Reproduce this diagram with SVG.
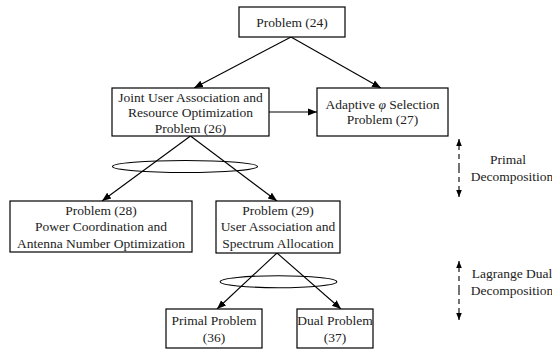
<svg xmlns="http://www.w3.org/2000/svg" width="552" height="349" viewBox="0 0 552 349">
<defs>
<marker id="ah" viewBox="0 0 10 10" refX="10" refY="5" markerWidth="9" markerHeight="9" markerUnits="userSpaceOnUse" orient="auto">
<path d="M0,1 L10,5 L0,9 Z" fill="#000"/>
</marker>
<marker id="sh" viewBox="0 0 10 10" refX="10" refY="5" markerWidth="7" markerHeight="7" markerUnits="userSpaceOnUse" orient="auto">
<path d="M0,1 L10,5 L0,9 Z" fill="#000"/>
</marker>
</defs>
<style>
.box{fill:#fff;stroke:#000;stroke-width:1.2}
text{font-family:'Liberation Serif','Times New Roman',serif;font-size:13.5px;fill:#222;text-anchor:middle}
.c{stroke:#000;stroke-width:1.1;fill:none}
.e{stroke:#000;stroke-width:1.1;fill:none}
.d{stroke:#000;stroke-width:1.1;fill:none;stroke-dasharray:5,4}
</style>
<rect width="552" height="349" fill="#fff"/>
<g id="connectors">
<line class="c" x1="291" y1="37" x2="194" y2="88" marker-end="url(#ah)"/>
<line class="c" x1="291" y1="37" x2="381" y2="88" marker-end="url(#ah)"/>
<line class="c" x1="269" y1="112" x2="317" y2="112" marker-end="url(#ah)"/>
<line class="c" x1="190.5" y1="136" x2="102" y2="201" marker-end="url(#ah)"/>
<line class="c" x1="190.5" y1="136" x2="277" y2="201" marker-end="url(#ah)"/>
<line class="c" x1="277" y1="253" x2="217" y2="309" marker-end="url(#ah)"/>
<line class="c" x1="277" y1="253" x2="341" y2="309" marker-end="url(#ah)"/>
<ellipse class="e" cx="185" cy="166.5" rx="72.5" ry="6"/>
<ellipse class="e" cx="278.5" cy="281.7" rx="58.3" ry="6"/>
</g>
<g id="n24"><rect class="box" x="239" y="7" width="106" height="30"/><text x="292" y="27">Problem (24)</text></g>
<g id="n26"><rect class="box" x="112" y="88" width="157" height="48"/>
<text x="190.5" y="101.5">Joint User Association and</text>
<text x="190.5" y="117">Resource Optimization</text>
<text x="190.5" y="132.5">Problem (26)</text></g>
<g id="n27"><rect class="box" x="317" y="88" width="131" height="48"/>
<text x="382.5" y="108.5">Adaptive <tspan font-style="italic">φ</tspan> Selection</text>
<text x="382.5" y="124">Problem (27)</text></g>
<g id="n28"><rect class="box" x="10" y="201" width="182" height="51"/>
<text x="101" y="214.5">Problem (28)</text>
<text x="101" y="231">Power Coordination and</text>
<text x="101" y="247.5">Antenna Number Optimization</text></g>
<g id="n29"><rect class="box" x="216" y="201" width="124" height="52"/>
<text x="278" y="214.5">Problem (29)</text>
<text x="278" y="231">User Association and</text>
<text x="278" y="247.5">Spectrum Allocation</text></g>
<g id="n36"><rect class="box" x="166" y="309" width="96" height="39"/>
<text x="214" y="324.5">Primal Problem</text>
<text x="214" y="342">(36)</text></g>
<g id="n37"><rect class="box" x="297" y="309" width="76" height="39"/>
<text x="335" y="324.5">Dual Problem</text>
<text x="335" y="342">(37)</text></g>
<g id="primal-dec">
<line class="d" x1="459" y1="168" x2="459" y2="139" marker-end="url(#sh)"/>
<line class="d" x1="459" y1="168" x2="459" y2="197" marker-end="url(#sh)"/>
<text x="508" y="164">Primal</text>
<text x="512" y="181">Decomposition</text>
</g>
<g id="lagrange-dec">
<line class="d" x1="459" y1="290" x2="459" y2="261" marker-end="url(#sh)"/>
<line class="d" x1="459" y1="290" x2="459" y2="320" marker-end="url(#sh)"/>
<text x="512" y="278">Lagrange Dual</text>
<text x="512" y="295">Decomposition</text>
</g>
</svg>
